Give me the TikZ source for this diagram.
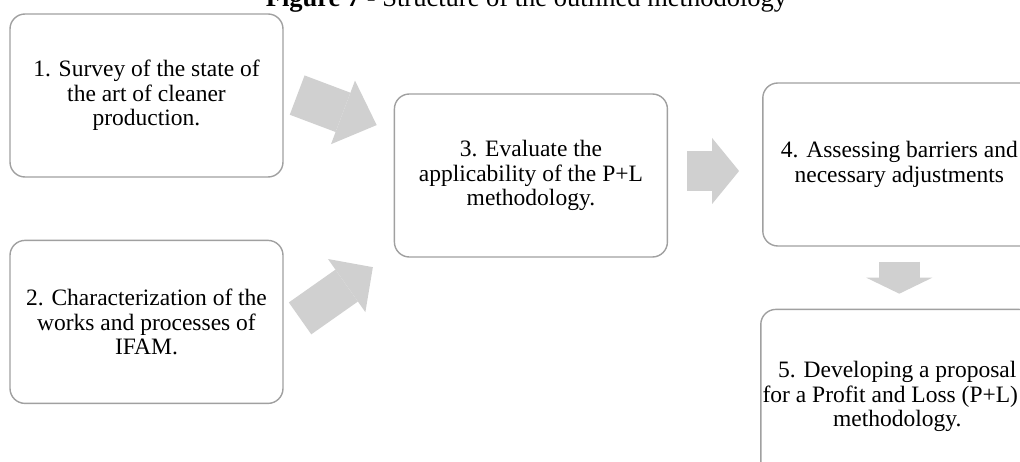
\documentclass[tikz,border=0pt]{standalone}
\usepackage{fontspec}
\setmainfont{Liberation Serif}
\usepackage{tikz}
\usetikzlibrary{arrows.meta, positioning}
\definecolor{boxgray}{RGB}{160,160,160}
\definecolor{arrowgray}{RGB}{208,208,208}
\tikzstyle{stage} = [rectangle, rounded corners=15pt, minimum width=273pt,
                     minimum height=163pt, inner sep=0pt, align=center,
                     draw=boxgray, line width=1.4pt, fill=white,
                     font=\fontsize{23.5}{24.5}\selectfont]
\tikzstyle{flow}  = [draw=arrowgray, line cap=butt]

\begin{document}
\begin{tikzpicture}[x=1pt, y=-1pt, node distance=62pt]
  \clip (0,0) rectangle (1020,462);
  \node[anchor=base, font=\fontsize{26.5}{30}\selectfont] (title) at (526.5,7)
        {\textbf{Figure 7} - Structure of the outlined methodology};

  \node[stage] (survey) at (146.5,95.5)
        {1. Survey of the state of\\the art of cleaner\\production.};
  \node[stage, below=of survey] (charact)
        {2. Characterization of the\\works and processes of\\IFAM.};
  \node[stage, right=110pt of survey, yshift=-80pt] (evaluate)
        {3. Evaluate the\\applicability of the P+L\\methodology.};
  \node[stage, right=94pt of evaluate, yshift=11pt] (barriers)
        {4. Assessing barriers and\\necessary adjustments};
  \node[stage, below=of barriers, xshift=-2pt, minimum height=174pt] (proposal)
        {5. Developing a proposal\\\hspace*{-14pt}for a Profit and Loss (P+L)\\methodology.};

  % block arrows
  \draw[flow, line width=42pt, -{Triangle[length=36pt, width=68pt, line width=0pt]},
        shorten <=14.4pt, shorten >=18.2pt]
        ([yshift=5.5pt]survey.east) -- ([yshift=44pt]evaluate.west);
  \draw[flow, line width=39pt, -{Triangle[length=32pt, width=65pt, line width=0pt]},
        shorten <=20pt, shorten >=25.5pt]
        ([yshift=-8pt]charact.east) -- ([yshift=-77pt]evaluate.west);
  \draw[flow, line width=40pt, -{Triangle[length=27pt, width=66pt, line width=0pt]},
        shorten <=19pt, shorten >=23pt]
        ([yshift=4.5pt]evaluate.east) -- ([yshift=4.5pt]evaluate.east -| barriers.west);
  \draw[flow, line width=41pt, -{Triangle[length=16pt, width=66pt, line width=0pt]},
        shorten <=15pt, shorten >=15pt]
        (barriers.south) -- (barriers.south |- proposal.north);
\end{tikzpicture}
\end{document}
